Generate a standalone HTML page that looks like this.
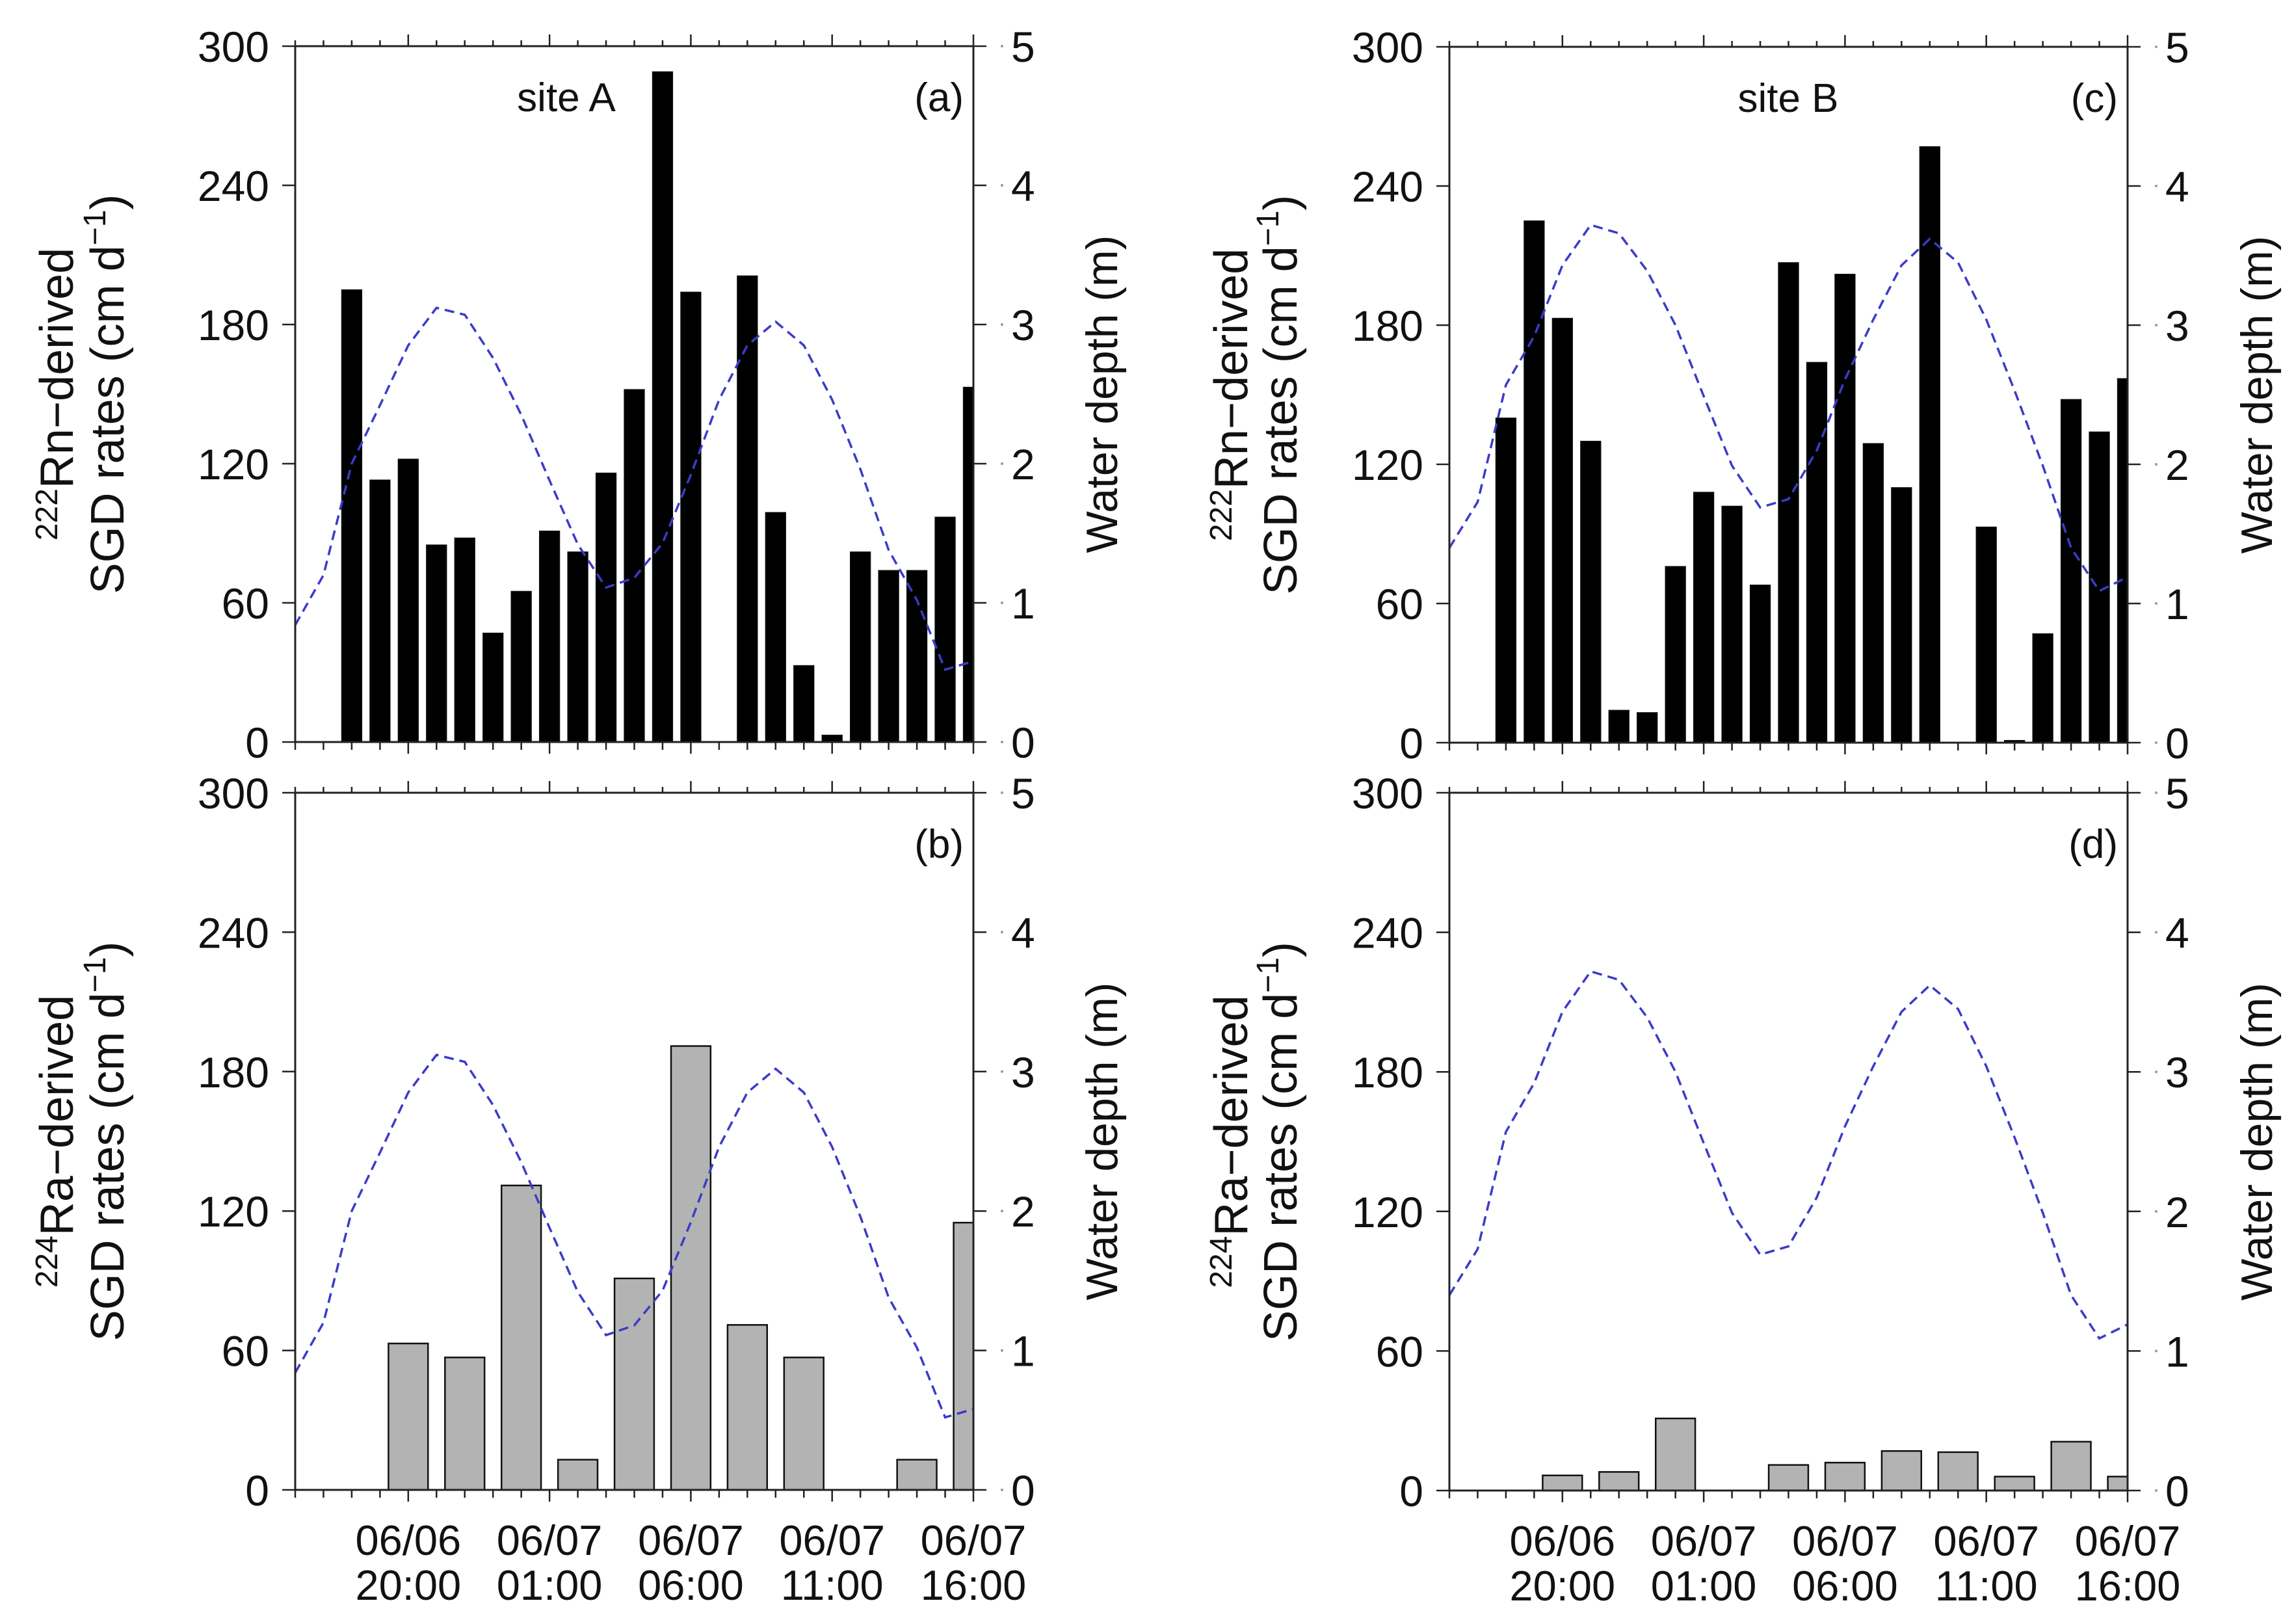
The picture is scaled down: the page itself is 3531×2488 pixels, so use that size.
<!DOCTYPE html>
<html><head><meta charset="utf-8"><style>
html,body{margin:0;padding:0;background:#fff;}
svg{display:block;font-family:"Liberation Sans",Arial,sans-serif;}
</style></head><body>
<svg id="fig" width="3531" height="2488" viewBox="0 0 3531 2488" xmlns="http://www.w3.org/2000/svg"></svg>
<script>
// hours since 06/06 16:00 (0..24)
const hoursA = [2,3,4,5,6,7,8,9,10,11,12,13,14,16,17,18,19,20,21,22,23,24];
const rnA = [195,113,122,85,88,47,65,91,82,116,152,289,194,201,99,33,3,82,74,74,97,153];
const raHoursA = [4,6,8,10,12,14,16,18,22,24];
const raA = [63,57,131,13,91,191,71,57,13,115];
const hoursB = [2,3,4,5,6,7,8,9,10,11,12,13,14,15,16,17,19,20,21,22,23,24];
const rnB = [140,225,183,130,14,13,76,108,102,68,207,164,202,129,110,257,93,1,47,148,134,157];
const raHoursB = [4,6,8,12,14,16,18,20,22,24];
const raB = [6.5,8,31,11,12,17,16.5,6,21,6];
const depthHours = [0,1,2,3,4,5,6,7,8,9,10,11,12,13,14,15,16,17,18,19,20,21,22,23,24];
const depthA = [0.84,1.2,2.0,2.42,2.85,3.12,3.07,2.76,2.35,1.88,1.42,1.11,1.18,1.43,1.92,2.46,2.85,3.02,2.85,2.46,1.96,1.38,1.02,0.52,0.58];
const depthB = [1.40,1.73,2.57,2.92,3.43,3.72,3.66,3.39,3.0,2.49,1.99,1.69,1.75,2.10,2.61,3.04,3.43,3.62,3.45,3.04,2.53,1.99,1.40,1.09,1.19];
const leftTicks = [0,60,120,180,240,300];
const rightTicks = [0,1,2,3,4,5];
const xTickHours = [4,9,14,19,24];
const xTickLine1 = ["06/06","06/07","06/07","06/07","06/07"];
const xTickLine2 = ["20:00","01:00","06:00","11:00","16:00"];

const NS = "http://www.w3.org/2000/svg";
const svg = document.getElementById('fig');
function el(tag, attrs, parent, text){
  const e = document.createElementNS(NS, tag);
  for (const k in attrs) e.setAttribute(k, attrs[k]);
  if (text !== undefined) e.textContent = text;
  (parent||svg).appendChild(e);
  return e;
}

function panel(cfg){
  const {id,x0,x1,y0,y1,hours,vals,barW,fill,depth,letter,site,showX,ltx1,ltx2,line1,rtx} = cfg;
  const g = el('g',{});
  
  
  const xs = h => x0 + (x1-x0)*h/24;
  const ys = v => y1 - (y1-y0)*v/300;
  const yr = v => y1 - (y1-y0)*v/5;
  const cp = el('clipPath',{id:'clip'+id}, g);
  el('rect',{x:x0,y:y0,width:x1-x0,height:y1-y0}, cp);
  const bars = el('g',{'clip-path':'url(#clip'+id+')'}, g);
  
  
  hours.forEach((h,i)=>{
    const w = barW*(x1-x0)/24;
    const r = el('rect',{x:xs(h)-w/2,y:ys(vals[i]),width:w,height:y1-ys(vals[i]),fill:fill,stroke:'#111','stroke-width':fill==='#000'?1:2.5}, bars);
    
    
  });
  const pts = depthHours.map((h,i)=>xs(h).toFixed(1)+','+yr(depth[i]).toFixed(1)).join(' ');
  const pl = el('polyline',{points:pts,fill:'none',stroke:'#3b3bc8','stroke-width':3.5,'stroke-dasharray':'15 9'}, g);
  
  
  const fr = el('rect',{x:x0,y:y0,width:x1-x0,height:y1-y0,fill:'none',stroke:'#222','stroke-width':3}, g);
  
  
  for (let h=0; h<=24; h++){
    const maj = xTickHours.includes(h);
    const x = xs(h);
    el('line',{x1:x,x2:x,y1:y0,y2:y0-(maj?18:9),stroke:'#222','stroke-width':2.5}, g);
    el('line',{x1:x,x2:x,y1:y1,y2:y1+(maj?18:12),stroke:'#222','stroke-width':2.5}, g);
  }
  leftTicks.forEach(v=>{
    const y = ys(v);
    el('line',{x1:x0-20,x2:x0,y1:y,y2:y,stroke:'#222','stroke-width':2.5}, g);
    const t = el('text',{x:x0-40,y:y+24,'font-size':66,'text-anchor':'end',fill:'#111'}, g, String(v));
    
    
  });
  rightTicks.forEach(v=>{
    const y = yr(v);
    el('line',{x1:x1,x2:x1+20,y1:y,y2:y,stroke:'#222','stroke-width':2.5}, g);
    el('circle',{cx:x1+44,cy:y,r:2,fill:'#999'}, g);
    const t = el('text',{x:x1+58,y:y+24,'font-size':66,fill:'#111'}, g, String(v));
    
    
  });
  if (showX){
    xTickHours.forEach((h,i)=>{
      const t1 = el('text',{x:xs(h),y:y1+100,'font-size':65,'text-anchor':'middle',fill:'#111'}, g, xTickLine1[i]);
      
      
      const t2 = el('text',{x:xs(h),y:y1+169,'font-size':65,'text-anchor':'middle',fill:'#111'}, g, xTickLine2[i]);
      
      
    });
  }
  const lt = el('text',{x:x1-15,y:y0+100,'font-size':62,'text-anchor':'end',fill:'#111'}, g, '('+letter+')');
  
  
  if (site){
    const st = el('text',{x:site.x,y:y0+100,'font-size':62,'text-anchor':'middle',fill:'#111'}, g, site.t);
    
    
  }
  const cy = (y0+y1)/2;
  const t1 = el('text',{transform:`translate(${ltx1},${cy}) rotate(-90)`,'font-size':72,'text-anchor':'middle',fill:'#111'}, g);
  
  
  el('tspan',{'font-size':48,dy:-24}, t1, line1.sup);
  el('tspan',{dy:24}, t1, line1.txt);
  const t2 = el('text',{transform:`translate(${ltx2},${cy}) rotate(-90)`,'font-size':72,'text-anchor':'middle',fill:'#111'}, g);
  
  
  el('tspan',{}, t2, 'SGD rates (cm d');
  el('tspan',{'font-size':48,dy:-28}, t2, '\u22121');
  el('tspan',{dy:28}, t2, ')');
  const rt = el('text',{transform:`translate(${rtx},${cy}) rotate(-90)`,'font-size':68,'text-anchor':'middle',fill:'#111'}, g, 'Water depth (m)');
  
  
}

const rn = {sup:'222',txt:'Rn\u2212derived'};
const ra = {sup:'224',txt:'Ra\u2212derived'};
panel({id:'a',x0:454,x1:1497,y0:71,y1:1141,hours:hoursA,vals:rnA,barW:0.72,fill:'#000',depth:depthA,letter:'a',site:{x:871,t:'site A'},showX:false,ltx1:112,ltx2:190,line1:rn,rtx:1718});
panel({id:'b',x0:454,x1:1497,y0:1219,y1:2291,hours:raHoursA,vals:raA,barW:1.4,fill:'#b3b3b3',depth:depthA,letter:'b',site:null,showX:true,ltx1:112,ltx2:190,line1:ra,rtx:1718});
panel({id:'c',x0:2229,x1:3272,y0:72,y1:1142,hours:hoursB,vals:rnB,barW:0.72,fill:'#000',depth:depthB,letter:'c',site:{x:2750,t:'site B'},showX:false,ltx1:1918,ltx2:1994,line1:rn,rtx:3494});
panel({id:'d',x0:2229,x1:3272,y0:1219,y1:2292,hours:raHoursB,vals:raB,barW:1.4,fill:'#b3b3b3',depth:depthB,letter:'d',site:null,showX:true,ltx1:1918,ltx2:1994,line1:ra,rtx:3494});
</script>
</body></html>
